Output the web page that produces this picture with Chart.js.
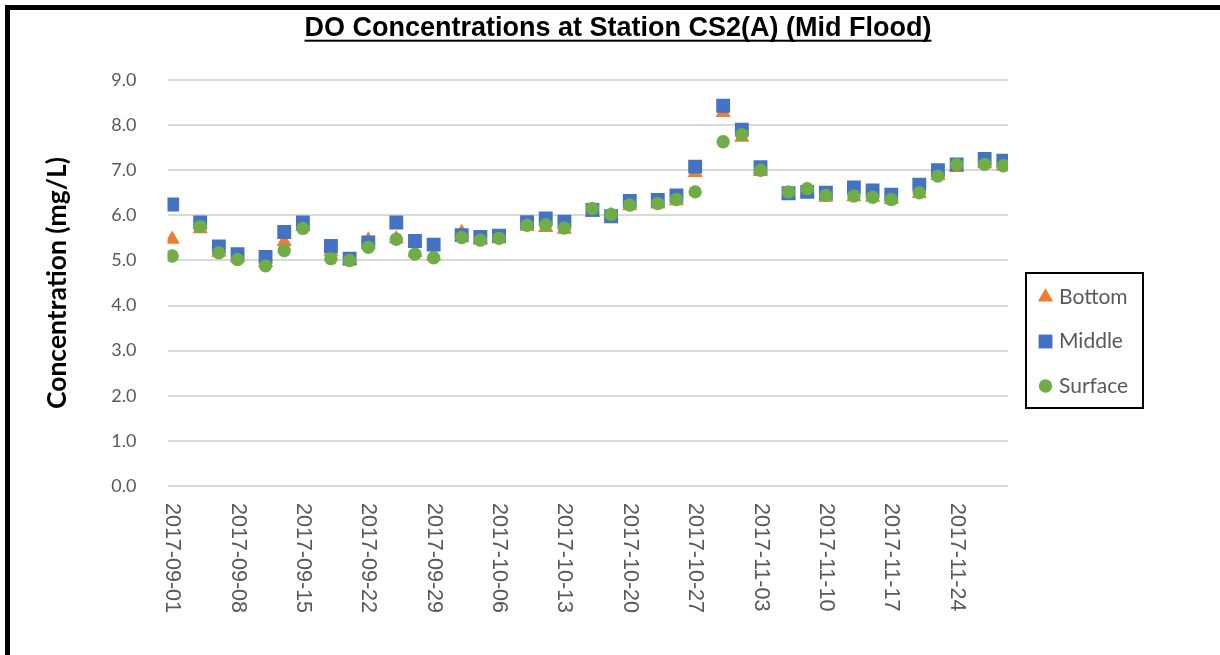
<!DOCTYPE html>
<html>
<head>
<meta charset="utf-8">
<title>DO Concentrations at Station CS2(A) (Mid Flood)</title>
<script src="https://cdn.jsdelivr.net/npm/chart.js@4.4.1/dist/chart.umd.min.js"></script>
<style>
  html, body { margin: 0; padding: 0; background: #fff; }
  #wrap { position: relative; width: 1220px; height: 655px; overflow: hidden; }
  #frame { position: absolute; left: 5px; top: 5px; right: -10px; bottom: -10px;
           border-left: 5px solid #000; border-top: 5px solid #000; }
  #doChart { position: absolute; left: 0; top: 0; }
</style>
</head>
<body>
<div id="wrap">
  <div id="frame"></div>
  <canvas id="doChart" width="1220" height="655"></canvas>
</div>
<script>
// sampling days (Mon / Wed / Fri)
const sampleDates = [
  '2017-09-01', '2017-09-04', '2017-09-06', '2017-09-08', '2017-09-11', '2017-09-13',
  '2017-09-15', '2017-09-18', '2017-09-20', '2017-09-22', '2017-09-25', '2017-09-27',
  '2017-09-29', '2017-10-02', '2017-10-04', '2017-10-06', '2017-10-09', '2017-10-11',
  '2017-10-13', '2017-10-16', '2017-10-18', '2017-10-20', '2017-10-23', '2017-10-25',
  '2017-10-27', '2017-10-30', '2017-11-01', '2017-11-03', '2017-11-06', '2017-11-08',
  '2017-11-10', '2017-11-13', '2017-11-15', '2017-11-17', '2017-11-20', '2017-11-22',
  '2017-11-24', '2017-11-27', '2017-11-29'
];

// DO in mg/L
const bottomValues = [
  5.47, 5.70, 5.18, 5.05, 4.95, 5.42, 5.75, 5.20, 5.00, 5.45, 5.48, 5.18, 5.10,
  5.62, 5.45, 5.48, 5.75, 5.73, 5.69, 6.06, 6.00, 6.21, 6.25, 6.32, 6.95, 8.28,
  7.73, 6.97, 6.45, 6.50, 6.40, 6.41, 6.40, 6.35, 6.48, 6.88, 7.06, 7.14, 7.09
];
const middleValues = [
  6.24, 5.84, 5.31, 5.14, 5.08, 5.63, 5.84, 5.32, 5.04, 5.40, 5.84, 5.43, 5.35,
  5.56, 5.52, 5.55, 5.85, 5.93, 5.86, 6.12, 5.98, 6.32, 6.34, 6.44, 7.08, 8.43,
  7.90, 7.07, 6.49, 6.52, 6.50, 6.62, 6.55, 6.46, 6.68, 7.00, 7.13, 7.25, 7.21
];
const surfaceValues = [
  5.10, 5.75, 5.17, 5.02, 4.88, 5.22, 5.71, 5.04, 5.00, 5.29, 5.47, 5.14, 5.06,
  5.51, 5.45, 5.49, 5.78, 5.79, 5.72, 6.15, 6.02, 6.23, 6.26, 6.35, 6.52, 7.63,
  7.79, 7.00, 6.52, 6.59, 6.44, 6.43, 6.40, 6.35, 6.50, 6.87, 7.12, 7.13, 7.10
];

const xTickLabels = [
  '2017-09-01', '2017-09-08', '2017-09-15', '2017-09-22', '2017-09-29', '2017-10-06',
  '2017-10-13', '2017-10-20', '2017-10-27', '2017-11-03', '2017-11-10', '2017-11-17',
  '2017-11-24'
];

const DAY_MS = 86400000;
const startMs = Date.parse(sampleDates[0]);

function dayOf(dateStr) {
    return (Date.parse(dateStr) - startMs) / DAY_MS;
}

function toPoints(values) {
    return values.map((v, i) => ({ x: dayOf(sampleDates[i]), y: v }));
}

const GREY_TEXT = '#595959';

// Chart.js only rotates tick labels counter-clockwise, Excel reads them top-down
const verticalDateLabels = {
    id: 'verticalDateLabels',
    afterDraw(chart) {
        const xScale = chart.scales.x;
        const ctx = chart.ctx;
        ctx.save();
        ctx.font = '21.5px "Liberation Sans", Arial, sans-serif';
        ctx.fillStyle = GREY_TEXT;
        ctx.textAlign = 'left';
        ctx.textBaseline = 'middle';
        xScale.ticks.forEach(tick => {
            const px = xScale.getPixelForValue(tick.value);
            ctx.save();
            ctx.translate(px, chart.chartArea.bottom + 17);
            ctx.rotate(Math.PI / 2);
            ctx.fillText(tick.label, 0, 0);
            ctx.restore();
        });
        ctx.restore();
    }
};

const titleUnderline = {
    id: 'titleUnderline',
    afterDraw(chart) {
        const block = chart.titleBlock;
        const opts = block.options;
        const ctx = chart.ctx;
        ctx.save();
        ctx.font = `${opts.font.weight} ${opts.font.size}px ${opts.font.family}`;
        const w = ctx.measureText(opts.text).width;
        const cx = (block.left + block.right) / 2;
        const cy = block.top + opts.padding.top + opts.font.size * 1.2 / 2 + 12;
        ctx.fillStyle = '#000';
        ctx.fillRect(cx - w / 2, cy - 1, w, 2);
        ctx.restore();
    }
};

function drawMarker(ctx, style, color, x, y, r) {
    ctx.fillStyle = color;
    ctx.beginPath();
    if (style === 'triangle') {
        ctx.moveTo(x, y - r);
        ctx.lineTo(x + 0.866 * r, y + 0.5 * r);
        ctx.lineTo(x - 0.866 * r, y + 0.5 * r);
        ctx.closePath();
    } else if (style === 'rect') {
        const s = Math.SQRT1_2 * r;
        ctx.rect(x - s, y - s, 2 * s, 2 * s);
    } else {
        ctx.arc(x, y, r, 0, Math.PI * 2);
    }
    ctx.fill();
}

// boxed legend off to the right, like the Excel one
const boxedLegend = {
    id: 'boxedLegend',
    afterDraw(chart, args, opts) {
        const ctx = chart.ctx;
        ctx.save();
        ctx.lineWidth = 2;
        ctx.strokeStyle = '#000';
        ctx.strokeRect(opts.left, opts.top, opts.width, opts.height);
        ctx.font = '21px Lato, sans-serif';
        ctx.textBaseline = 'middle';
        chart.data.datasets.forEach((ds, i) => {
            const cy = opts.firstRowY + i * opts.rowGap;
            drawMarker(ctx, ds.pointStyle, ds.backgroundColor, opts.markerX, cy, ds.pointRadius);
            ctx.fillStyle = GREY_TEXT;
            ctx.fillText(ds.label, opts.textX, cy);
        });
        ctx.restore();
    }
};

const ctx = document.getElementById('doChart');

new Chart(ctx, {
    type: 'scatter',
    data: {
        datasets: [
            {
                label: 'Bottom',
                data: toPoints(bottomValues),
                pointStyle: 'triangle',
                pointRadius: 8.8,
                pointHoverRadius: 8.8,
                backgroundColor: '#ED7D31',
                borderWidth: 0,
                pointBorderWidth: 0,
                order: 3
            },
            {
                label: 'Middle',
                data: toPoints(middleValues),
                pointStyle: 'rect',
                pointRadius: 9.8,
                pointHoverRadius: 9.8,
                backgroundColor: '#4472C4',
                borderWidth: 0,
                pointBorderWidth: 0,
                order: 2
            },
            {
                label: 'Surface',
                data: toPoints(surfaceValues),
                pointStyle: 'circle',
                pointRadius: 6.7,
                pointHoverRadius: 6.7,
                backgroundColor: '#70AD47',
                borderWidth: 0,
                pointBorderWidth: 0,
                order: 1
            }
        ]
    },
    options: {
        responsive: false,
        animation: false,
        layout: {
            padding: { left: 16, right: 0, top: 0, bottom: 0 }
        },
        scales: {
            x: {
                type: 'linear',
                min: -0.5,
                max: 89.5,
                grid: { display: false },
                border: { display: false },
                afterBuildTicks: scale => {
                    scale.ticks = xTickLabels.map(d => ({ value: dayOf(d) }));
                },
                afterFit: scale => { scale.height = 169; },
                ticks: {
                    display: false,
                    callback: value => xTickLabels.find(d => dayOf(d) === value) || ''
                }
            },
            y: {
                min: 0,
                max: 9,
                afterFit: scale => { scale.width = 151.5; },
                grid: { color: '#D9D9D9', lineWidth: 2, drawTicks: false },
                border: { display: false },
                ticks: {
                    stepSize: 1,
                    padding: 31,
                    color: GREY_TEXT,
                    font: { family: 'Lato', size: 18 },
                    callback: v => v.toFixed(1)
                },
                title: {
                    display: true,
                    text: 'Concentration (mg/L)',
                    color: '#000',
                    padding: { top: 26, bottom: 4 },
                    font: { family: 'Lato', size: 26.5, weight: 'bold' }
                }
            },
            // empty right axis: keeps room for the legend without shifting the title
            legendRoom: {
                axis: 'y',
                position: 'right',
                afterFit: scale => { scale.width = 212; },
                grid: { display: false },
                border: { display: false },
                ticks: { display: false }
            }
        },
        plugins: {
            legend: { display: false },
            tooltip: { enabled: false },
            title: {
                display: true,
                text: 'DO Concentrations at Station CS2(A) (Mid Flood)',
                color: '#000',
                font: { family: '"Liberation Sans", Arial, sans-serif', size: 27, weight: 'bold' },
                padding: { top: 12.5, bottom: 35.1 }
            },
            boxedLegend: {
                left: 1026, top: 273, width: 117, height: 135,
                firstRowY: 297, rowGap: 44.5,
                markerX: 1045.5, textX: 1059
            }
        }
    },
    plugins: [verticalDateLabels, titleUnderline, boxedLegend]
});
</script>
</body>
</html>
